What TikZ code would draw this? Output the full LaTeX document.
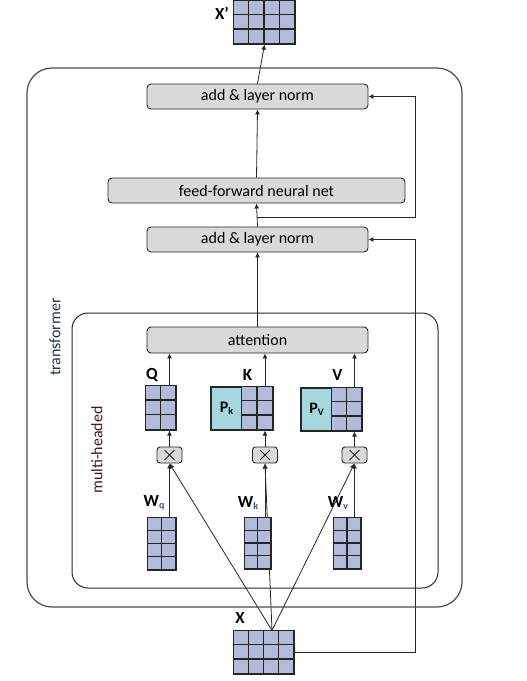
\documentclass[tikz,border=0pt]{standalone}
\usepackage{fontspec}
\setmainfont{Carlito}
\usetikzlibrary{calc,arrows.meta,backgrounds}
\definecolor{cellc}{HTML}{B3BBDA}
\definecolor{pc}{HTML}{A6D7DF}
\definecolor{boxc}{HTML}{D9D9D9}
\definecolor{linec}{HTML}{262626}
\definecolor{framec}{HTML}{4A4A4A}
\definecolor{tfc}{HTML}{1F3550}
\definecolor{mhc}{HTML}{4A1818}
\definecolor{subc}{HTML}{2F4F9A}
% \matnode{name}{x}{y}{cols}{rows}{cell w}{cell h}
\newcommand\matnode[7]{%
  \pgfmathsetmacro\mw{#4*#6}%
  \pgfmathsetmacro\mh{#5*#7}%
  \node[mat, minimum width=\mw, minimum height=\mh] (#1) at (#2,#3) {};
  \pgfmathtruncatemacro\mcc{#4-1}%
  \pgfmathtruncatemacro\mrr{#5-1}%
  \foreach \i in {0,...,\mcc}{\foreach \j in {0,...,\mrr}{%
    \draw[cell] ($(#1.north west)+(\i*#6,\j*#7)$) rectangle ++(#6,#7);}}%
}
\newcommand\subk[1]{{\fontsize{10}{10}\selectfont\raisebox{-2pt}{#1}}}
\begin{document}
\begin{tikzpicture}[x=1pt,y=-1pt,
  proc/.style={draw=linec, fill=boxc, rounded corners=4pt, line width=0.9pt, font=\fontsize{16}{19}\selectfont, inner sep=0pt},
  mat/.style={draw=linec, fill=cellc, line width=1.2pt, inner sep=0pt},
  cell/.style={draw=linec, fill=cellc, line width=1.2pt},
  pbox/.style={draw=linec, fill=pc, line width=1.2pt, inner sep=0pt, font=\bfseries\fontsize{16}{18}\selectfont},
  mul/.style={draw=linec, fill=boxc, rounded corners=3pt, line width=0.9pt, minimum width=25, minimum height=16, inner sep=0pt},
  lbl/.style={font=\bfseries\fontsize{17}{19}\selectfont, inner sep=0pt},
  arr/.style={-{Latex[length=5pt,width=5pt]}, draw=linec, line width=0.8pt},
  frame/.style={draw=framec, line width=1.2pt}]
\useasboundingbox (0,0) rectangle (527,681);

% frames
\node[frame, rounded corners=25pt, minimum width=435, minimum height=539] (tf) at (244.5,337.5) {};
\node[frame, draw=linec, line width=1pt, rounded corners=16pt, minimum width=366, minimum height=275] (mh) at (255,450.5) {};
\node[rotate=90, text=tfc, font=\fontsize{16}{19}\selectfont] (tfl) at (55,337) {transformer};
\node[rotate=90, text=mhc, font=\fontsize{16}{19}\selectfont] (mhl) at (97,450) {multi-headed};

% output
\matnode{Xp}{264.5}{22.5}{4}{3}{15.25}{14.33}
\node[lbl] (Xpl) at (222,13) {X’};

% blocks
\node[proc, minimum width=221, minimum height=25] (norm2) at (257.5,96.5) {add \& layer norm};
\node[proc, minimum width=297, minimum height=25] (ffn) at (256.5,190.5) {feed-forward neural net};
\node[proc, minimum width=221, minimum height=25] (norm1) at (257.5,239.5) {add \& layer norm};
\node[proc, minimum width=221, minimum height=26] (attn) at (257.5,340) {attention};

% Q K V
\matnode{Q}{161}{408}{2}{3}{15}{14.67}
\node[pbox, minimum width=31, minimum height=43] (Pk) at (226.5,408.5) {P\subk{k}};
\matnode{K}{257.5}{408.5}{2}{3}{15.5}{14.33}
\node[pbox, minimum width=31, minimum height=43] (Pv) at (316.5,409.5) {P\subk{V}};
\matnode{V}{347}{409.5}{2}{3}{15}{14.33}
\node[lbl] (Ql) at (152,374.5) {Q};
\node[lbl] (Kl) at (247.5,374.5) {K};
\node[lbl] (Vl) at (337.5,374.5) {V};

% multiply boxes
\node[mul] (mq) at (169.5,455) {};
\node[mul] (mk) at (265,455) {};
\node[mul] (mv) at (354.5,455) {};
\foreach \m in {mq,mk,mv}{
  \draw[linec, line width=0.9pt] ($(\m)+(-5,-5)$) -- ($(\m)+(5,5)$);
  \draw[linec, line width=0.9pt] ($(\m)+(-5,5)$) -- ($(\m)+(5,-5)$);
}

% weights
\matnode{Wq}{162}{544}{2}{4}{14}{13}
\matnode{Wk}{258}{543.5}{2}{4}{13}{12.75}
\matnode{Wv}{347.5}{543.5}{2}{4}{13.5}{12.75}
\node[lbl] (Wql) at (154,503) {W\textcolor{subc}{\subk{q}}};
\node[lbl] (Wkl) at (248,503) {W\textcolor{subc}{\subk{k}}};
\node[lbl] (Wvl) at (338,503) {W\textcolor{subc}{\subk{v}}};

% input
\matnode{X}{264}{652.5}{4}{3}{15}{14.33}
\node[lbl] (Xl) at (240,618) {X};
\coordinate (fan) at ([xshift=8]X.north);
\coordinate (rr) at (415,0);

\begin{scope}[on background layer]
  % fan from X
  \draw[arr] (fan) -- (mq.south);
  \draw[arr] (fan) -- (mk.south);
  \draw[arr] (fan) -- (mv.south);
  % W to multiply
  \draw[arr] (mq |- Wq.north) -- (mq.south);
  \draw[arr] (mk |- Wk.north) -- (mk.south);
  \draw[arr] (mv |- Wv.north) -- (mv.south);
  % multiply to matrices
  \draw[arr] (mq.north) -- (mq |- Q.south);
  \draw[arr] (mk.north) -- (mk |- K.south);
  \draw[arr] (mv.north) -- (mv |- V.south);
  % matrices to attention
  \draw[arr] (mq |- Q.north) -- (mq |- attn.south);
  \draw[arr] (mk |- K.north) -- (mk |- attn.south);
  \draw[arr] (mv |- V.north) -- (mv |- attn.south);
  % main stack
  \draw[arr] (attn.north) -- (norm1.south);
  \draw[arr] (norm1.north) -- (ffn.south);
  \draw[arr] (ffn.north) -- (norm2.south);
  \draw[arr] (norm2.north) -- (Xp.south);
  % residuals
  \draw[arr] (X.east) -| (rr |- norm1.east) -- (norm1.east);
  \coordinate (br) at ($(norm1.north)!0.4!(ffn.south)$);
  \draw[arr] (br) -| (rr |- norm2.east) -- (norm2.east);
\end{scope}
\end{tikzpicture}
\end{document}
